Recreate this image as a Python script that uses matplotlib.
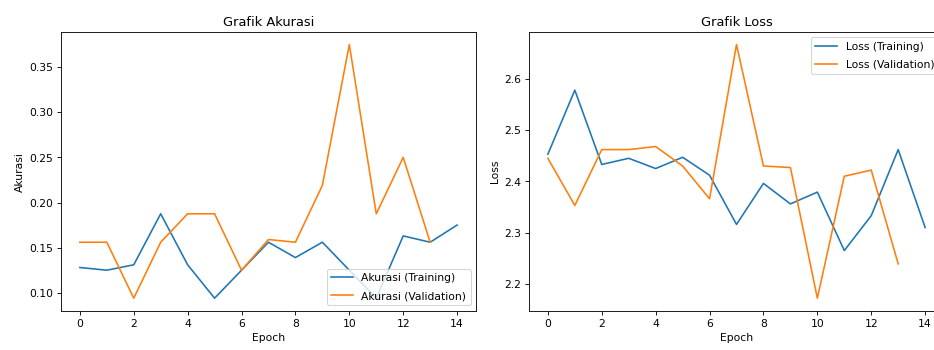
import matplotlib.pyplot as plt

# nilai
epoch_train = list(range(15))
epoch_val = list(range(14))

acc_train = [0.128, 0.125, 0.131, 0.1875, 0.131, 0.094, 0.125, 0.156, 0.139, 0.156,
             0.125, 0.094, 0.163, 0.156, 0.175]
acc_val = [0.156, 0.156, 0.094, 0.156, 0.1875, 0.1875, 0.125, 0.159, 0.156, 0.219,
           0.375, 0.1875, 0.25, 0.156]

loss_train = [2.453, 2.578, 2.433, 2.445, 2.425, 2.447, 2.412, 2.316, 2.396, 2.356,
              2.379, 2.265, 2.333, 2.462, 2.310]
loss_val = [2.445, 2.353, 2.462, 2.462, 2.468, 2.430, 2.366, 2.667, 2.430, 2.427,
            2.172, 2.410, 2.422, 2.239]

fig = plt.figure(figsize=(12, 4.5), dpi=934 / 12)

# sumbu kanan sengaja melewati tepi gambar (seperti aslinya terpotong)
ax1 = fig.add_axes([0.0653, 0.1117, 0.4443, 0.7966])
ax2 = fig.add_axes([0.5664, 0.1117, 0.4443, 0.7966])

ax1.plot(epoch_train, acc_train, label='Akurasi (Training)')
ax1.plot(epoch_val, acc_val, label='Akurasi (Validation)')
ax1.set_title('Grafik Akurasi')
ax1.set_xlabel('Epoch')
ax1.set_ylabel('Akurasi')
ax1.legend(loc='lower right', labelspacing=0.75)

ax2.plot(epoch_train, loss_train, label='Loss (Training)')
ax2.plot(epoch_val, loss_val, label='Loss (Validation)')
ax2.set_title('Grafik Loss')
ax2.set_xlabel('Epoch')
ax2.set_ylabel('Loss')
ax2.legend(loc='upper right', labelspacing=0.75)

fig.savefig('out.png', dpi=934 / 12)
